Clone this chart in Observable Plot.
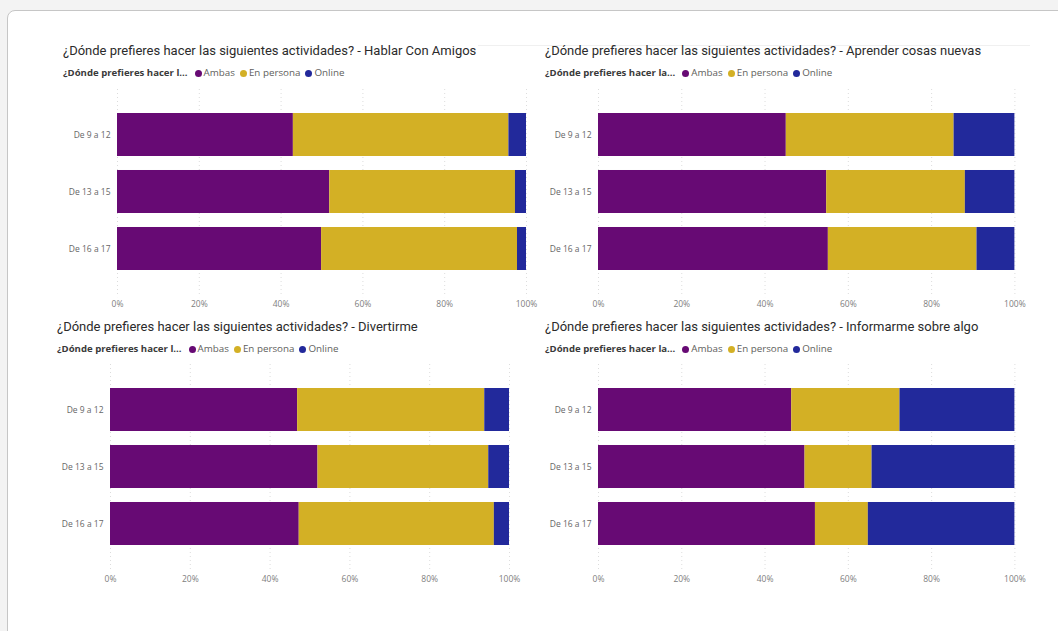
<!DOCTYPE html>
<html>
<head>
<meta charset="utf-8">
<script src="https://cdn.jsdelivr.net/npm/d3@7"></script>
<script src="https://cdn.jsdelivr.net/npm/@observablehq/plot@0.6"></script>
<style>
  html, body { margin: 0; padding: 0; }
  body { width: 1058px; height: 631px; background: #f3f3f3; position: relative; overflow: hidden; font-family: "Open Sans", "Noto Sans", sans-serif; }
  #card { position: absolute; left: 7px; top: 10px; width: 1070px; height: 640px; background: #fff; border: 1px solid #c6c6c6; border-radius: 8px; box-sizing: border-box; }
  .title { position: absolute; font-family: Roboto, "Open Sans", sans-serif; font-size: 13px; color: #2b2b2b; white-space: nowrap; line-height: 16px; }
  .legend { position: absolute; font-size: 9.8px; color: #605e5c; white-space: nowrap; line-height: 12px; display: flex; align-items: center; }
  .legend b { color: #3a3a3a; margin-right: 7px; font-weight: 700; font-size: 9.6px; }
  .legend .it { display: flex; align-items: center; margin-right: 5px; }
  .legend .dot { width: 7px; height: 7px; border-radius: 50%; display: inline-block; margin-right: 2px; }
  .plot { position: absolute; }
  .hline { position: absolute; height: 1px; background: #f0f0f0; }
</style>
</head>
<body>
<div id="card"></div>
<div class="hline" style="left:478px; top:45px; width:552px;"></div>
<script>
// ---- data ----
const grupos = ["De 9 a 12", "De 13 a 15", "De 16 a 17"];
const respuestas = ["Ambas", "En persona", "Online"];
const colores = ["#670a74", "#d3b025", "#22299b"];
const ticksX = [0, 20, 40, 60, 80, 100];

// percentages per age group: [Ambas, En persona, Online]
const hablarConAmigos   = [[43.0, 52.7, 4.3], [51.9, 45.4, 2.7], [49.9, 47.9, 2.2]];
const aprenderCosas     = [[45.1, 40.3, 14.6], [54.8, 33.3, 11.9], [55.2, 35.7, 9.1]];
const divertirme        = [[46.9, 46.9, 6.2], [52.0, 42.8, 5.2], [47.3, 48.9, 3.8]];
const informarme        = [[46.4, 26.0, 27.6], [49.6, 16.1, 34.3], [52.1, 12.7, 35.2]];

const titulos = [
  "¿Dónde prefieres hacer las siguientes actividades? - Hablar Con Amigos",
  "¿Dónde prefieres hacer las siguientes actividades? - Aprender cosas nuevas",
  "¿Dónde prefieres hacer las siguientes actividades? - Divertirme",
  "¿Dónde prefieres hacer las siguientes actividades? - Informarme sobre algo"
];
const leyendaTitulos = [
  "¿Dónde prefieres hacer l...",
  "¿Dónde prefieres hacer la...",
  "¿Dónde prefieres hacer l...",
  "¿Dónde prefieres hacer la..."
];

// ---- layout ----
const panels = [
  {vals: hablarConAmigos, tx: 63, ty: 43, x0: 117, x1: 526, barTop: 113},
  {vals: aprenderCosas,   tx: 545, ty: 43, x0: 598.3, x1: 1014.7, barTop: 113},
  {vals: divertirme,      tx: 57, ty: 319, x0: 109.7, x1: 508.7, barTop: 388.3},
  {vals: informarme,      tx: 545, ty: 319, x0: 598.3, x1: 1014.7, barTop: 388.3}
];

const step = 57.4, barH = 43.5;
const pad = 1 - barH / step;

panels.forEach((p, i) => {
  const t = document.createElement("div");
  t.className = "title";
  t.style.left = p.tx + "px";
  t.style.top = p.ty + "px";
  t.textContent = titulos[i];
  document.body.appendChild(t);

  const lg = document.createElement("div");
  lg.className = "legend";
  lg.style.left = p.tx + "px";
  lg.style.top = (p.ty + 24) + "px";
  const b = document.createElement("b");
  b.textContent = leyendaTitulos[i];
  lg.appendChild(b);
  respuestas.forEach((r, k) => {
    const it = document.createElement("span");
    it.className = "it";
    const d = document.createElement("span");
    d.className = "dot";
    d.style.background = colores[k];
    it.appendChild(d);
    it.appendChild(document.createTextNode(r));
    lg.appendChild(it);
  });
  document.body.appendChild(lg);

  const rows = [];
  p.vals.forEach((v, gi) => v.forEach((val, k) => rows.push({grupo: grupos[gi], respuesta: respuestas[k], valor: val})));

  const mL = 70, mR = 22, mT = 12, mB = 26;
  const rangeStart = p.barTop - pad * step;
  const rangeEnd = rangeStart + (3 + pad) * step;
  const svgLeft = p.x0 - mL;
  const width = (p.x1 - p.x0) + mL + mR;
  const svgTop = rangeStart - mT;
  const height = (rangeEnd - rangeStart) + mT + mB;

  const chart = Plot.plot({
    width, height,
    marginLeft: mL, marginRight: mR, marginTop: mT, marginBottom: mB,
    style: {fontFamily: "'Open Sans', sans-serif", fontSize: "8.5px", color: "#666", background: "transparent", overflow: "visible"},
    x: {domain: [0, 100], ticks: ticksX, tickFormat: d => d + "%", label: null},
    y: {domain: grupos, padding: pad, label: null},
    color: {domain: respuestas, range: colores},
    marks: [
      Plot.gridX(ticksX, {stroke: "#dcdcdc", strokeOpacity: 1, strokeDasharray: "1,3", insetTop: -10, insetBottom: -12}),
      Plot.barX(rows, Plot.stackX({y: "grupo", x: "valor", fill: "respuesta", order: respuestas})),
      Plot.axisX({ticks: ticksX, tickFormat: d => d + "%", tickSize: 0, tickPadding: 15.5, fill: "#808080"}),
      Plot.axisY({tickSize: 0, tickPadding: 7, fill: "#666"})
    ]
  });
  const wrap = document.createElement("div");
  wrap.className = "plot";
  wrap.style.left = svgLeft + "px";
  wrap.style.top = svgTop + "px";
  wrap.appendChild(chart);
  document.body.appendChild(wrap);
});
</script>
</body>
</html>
